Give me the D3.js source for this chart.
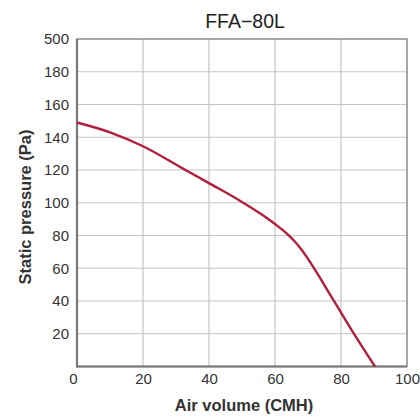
<!DOCTYPE html>
<html><head><meta charset="utf-8">
<script src="https://cdn.jsdelivr.net/npm/d3@7"></script>
<style>body{margin:0;background:#fff;}svg{display:block;font-family:"Liberation Sans",Arial,sans-serif;}</style>
</head><body>
<svg id="c" width="420" height="418"></svg>
<script>
const title = "FFA\u221280L";
const xLabel = "Air volume (CMH)";
const yLabel = "Static pressure (Pa)";
const xTicks = [0, 20, 40, 60, 80, 100];
const yTicks = [20, 40, 60, 80, 100, 120, 140, 160, 180, 200];
const yTickLabels = ["20", "40", "60", "80", "100", "120", "140", "160", "180", "500"];
const airVolume = [0, 10, 20, 32, 40, 50, 56, 60, 62, 64, 66, 68, 70, 72, 78, 84, 90.3];
const pressure = [149, 143, 134.5, 121, 112, 100.5, 92.8, 87, 83.9, 80.4, 76.3, 71.4, 65.7, 59.4, 39.6, 19.8, 0];

const svg = d3.select("#c");
const m = {l: 77, r: 407, t: 39, b: 366.5};
const x = d3.scaleLinear().domain([0, 100]).range([m.l, m.r]);
const y = d3.scaleLinear().domain([0, 200]).range([m.b, m.t]);

// grid
svg.append("g").selectAll("line").data(xTicks.slice(1, -1)).join("line")
  .attr("x1", d => x(d)).attr("x2", d => x(d)).attr("y1", m.t).attr("y2", m.b)
  .attr("stroke", "#c4c4c4").attr("stroke-width", 1.2);
svg.append("g").selectAll("line").data(yTicks.slice(0, -1)).join("line")
  .attr("x1", m.l).attr("x2", m.r).attr("y1", d => y(d)).attr("y2", d => y(d))
  .attr("stroke", "#c4c4c4").attr("stroke-width", 1.2);

// frame
svg.append("rect").attr("x", m.l).attr("y", m.t).attr("width", m.r - m.l).attr("height", m.b - m.t)
  .attr("fill", "none").attr("stroke", "#8a8a8a").attr("stroke-width", 1.5);
svg.append("line").attr("x1", m.l).attr("x2", m.l).attr("y1", m.t).attr("y2", m.b + 1)
  .attr("stroke", "#777").attr("stroke-width", 2.2);
svg.append("line").attr("x1", m.l - 1).attr("x2", m.r).attr("y1", m.b).attr("y2", m.b)
  .attr("stroke", "#777").attr("stroke-width", 2.2);

// axes via d3
const ya = d3.axisLeft(y).tickValues(yTicks).tickSize(0).tickPadding(8)
  .tickFormat((d, i) => yTickLabels[i]);
const yg = svg.append("g").attr("transform", `translate(${m.l},0)`).call(ya);
yg.select(".domain").remove();
yg.selectAll("text").attr("font-size", 15).attr("fill", "#333").attr("font-family", "Liberation Sans, Arial, sans-serif");

const xa = d3.axisBottom(x).tickValues(xTicks).tickSize(0).tickPadding(7);
const xg = svg.append("g").attr("transform", `translate(0,${m.b})`).call(xa);
xg.select(".domain").remove();
xg.selectAll("text").attr("font-size", 15).attr("fill", "#333").attr("font-family", "Liberation Sans, Arial, sans-serif")
  .attr("dx", (d) => d === 0 ? -4 : 0);

// curve
const pts = airVolume.map((v, i) => [v, pressure[i]]);
svg.append("path").datum(pts)
  .attr("d", d3.line().x(d => x(d[0])).y(d => y(d[1])).curve(d3.curveMonotoneX))
  .attr("fill", "none").attr("stroke", "#b01f3c").attr("stroke-width", 2.4);

// titles
svg.append("text").attr("x", 245).attr("y", 28).attr("text-anchor", "middle")
  .attr("font-size", 19.5).attr("fill", "#222").text(title);
svg.append("text").attr("x", 244).attr("y", 411).attr("text-anchor", "middle")
  .attr("font-size", 16.5).attr("font-weight", "bold").attr("fill", "#333").text(xLabel);
svg.append("text").attr("transform", "translate(31,207) rotate(-90)").attr("text-anchor", "middle")
  .attr("font-size", 16.5).attr("font-weight", "bold").attr("fill", "#333").text(yLabel);
</script>
</body></html>
